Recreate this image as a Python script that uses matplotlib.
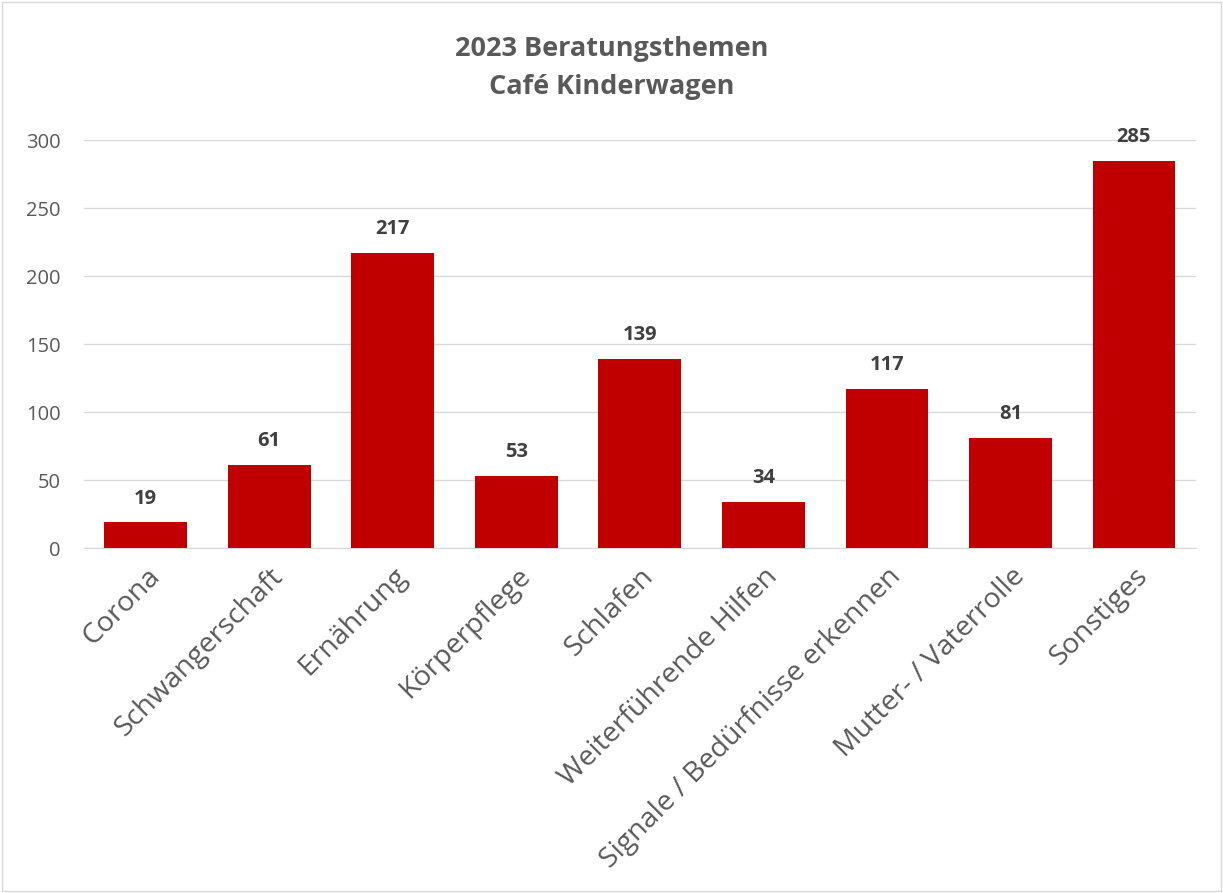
import matplotlib
matplotlib.use('Agg')
import matplotlib.pyplot as plt
from matplotlib.patches import Rectangle

categories = ['Corona', 'Schwangerschaft', 'Ernährung', 'Körperpflege', 'Schlafen',
              'Weiterführende Hilfen', 'Signale / Bedürfnisse erkennen',
              'Mutter- / Vaterrolle', 'Sonstiges']
values = [19, 61, 217, 53, 139, 34, 117, 81, 285]
yticks = [0, 50, 100, 150, 200, 250, 300]

plt.rcParams['font.family'] = ['Open Sans', 'DejaVu Sans']

fig = plt.figure(figsize=(12.23, 8.93), dpi=100)
ax = fig.add_axes([0.0687, 0.386, 0.909, 0.457])

x = range(len(categories))
bars = ax.bar(x, values, width=0.67, color='#C00000', zorder=3)
for xi, v in zip(x, values):
    ax.annotate(str(v), (xi, v), xytext=(0, 10), textcoords='offset points',
                ha='center', va='bottom', fontsize=14.5, fontweight='bold', color='#404040')

ax.set_xlim(-0.5, len(categories) - 0.5)
ax.set_ylim(0, 300)
ax.set_yticks(yticks)
ax.grid(axis='y', color='#D9D9D9', linewidth=1, zorder=0)
for s in ['top', 'right', 'left']:
    ax.spines[s].set_visible(False)
ax.spines['bottom'].set_color('#D9D9D9')
ax.tick_params(axis='both', length=0)
ax.tick_params(axis='y', labelsize=14.5, labelcolor='#595959', pad=17)
ax.set_xticks(list(x))
ax.set_xticklabels(categories, rotation=45, ha='right', rotation_mode='anchor',
                   fontsize=20.5, color='#595959')
ax.tick_params(axis='x', pad=10)

fig.suptitle('2023 Beratungsthemen\nCafé Kinderwagen', y=0.96, fontsize=19.5,
             fontweight='bold', color='#595959', linespacing=1.6)

fig.patches.append(Rectangle((0.002, 0.002), 0.996, 0.996, transform=fig.transFigure,
                             fill=False, edgecolor='#D9D9D9', linewidth=1))

fig.savefig('out.png', dpi=100, facecolor='white')
